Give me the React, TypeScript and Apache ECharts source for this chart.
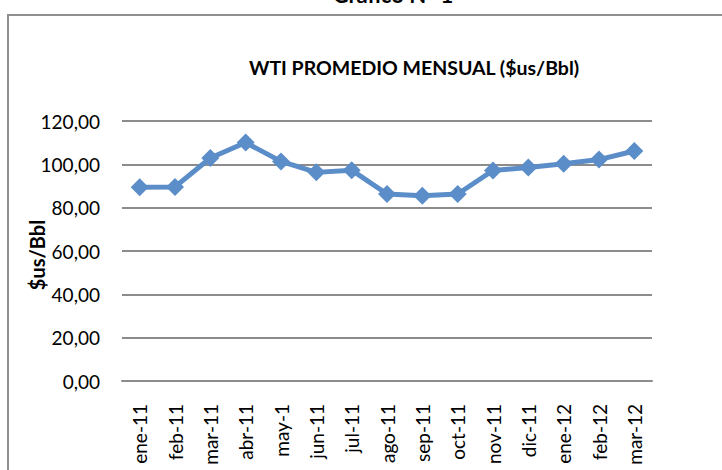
import React, { useEffect, useRef } from "react";
import * as echarts from "echarts";

const categories = [
  "ene-11", "feb-11", "mar-11", "abr-11", "may-1", "jun-11", "jul-11", "ago-11",
  "sep-11", "oct-11", "nov-11", "dic-11", "ene-12", "feb-12", "mar-12",
];
const wtiValues = [
  89.42, 89.58, 102.94, 110.04, 101.36, 96.29, 97.3, 86.33, 85.52, 86.32, 97.16, 98.56,
  100.27, 102.2, 106.16,
];
const yTicks = { min: 0, max: 120, interval: 20 };
const chartTitle = "WTI PROMEDIO MENSUAL ($us/Bbl)";
const topTitle = "Gráfico N° 1";
const yAxisName = "$us/Bbl";

const FONT = "Lato, 'Open Sans', sans-serif";

export default function App() {
  const ref = useRef<HTMLDivElement>(null);
  useEffect(() => {
    if (!ref.current) return;
    const chart = echarts.init(ref.current, null, { renderer: "svg" });
    chart.setOption({
      animation: false,
      backgroundColor: "#ffffff",
      textStyle: { fontFamily: FONT },
      grid: { left: 122, right: 70, top: 121, bottom: 89, containLabel: false },
      graphic: [
        {
          type: "rect",
          shape: { x: 8, y: 15, width: 900, height: 700 },
          style: { fill: "none", stroke: "#8f8f8f", lineWidth: 2 },
          silent: true,
        },
        {
          type: "text",
          x: 393,
          y: 5,
          style: {
            text: topTitle,
            fontFamily: FONT,
            fontSize: 22,
            fontWeight: "bold",
            fill: "#000",
            textAlign: "center",
            textVerticalAlign: "bottom",
          },
        },
        {
          type: "text",
          x: 414,
          y: 67,
          style: {
            text: chartTitle,
            fontFamily: FONT,
            fontSize: 19.5,
            fontWeight: "bold",
            fill: "#000",
            textAlign: "center",
            textVerticalAlign: "middle",
          },
        },
        {
          type: "text",
          x: 37,
          y: 255,
          rotation: Math.PI / 2,
          style: {
            text: yAxisName,
            fontFamily: FONT,
            fontSize: 20,
            fontWeight: "bold",
            fill: "#000",
            textAlign: "center",
            textVerticalAlign: "middle",
          },
        },
      ],
      xAxis: {
        type: "category",
        data: categories,
        boundaryGap: true,
        axisLine: { show: true, lineStyle: { color: "#8c8c8c", width: 2 } },
        axisTick: { show: false },
        axisLabel: {
          rotate: 90,
          margin: 23,
          interval: 0,
          fontSize: 19,
          color: "#000",
          fontFamily: FONT,
        },
        splitLine: { show: false },
      },
      yAxis: {
        type: "value",
        min: yTicks.min,
        max: yTicks.max,
        interval: yTicks.interval,
        axisLine: { show: false },
        axisTick: { show: false },
        axisLabel: {
          margin: 22,
          fontSize: 19,
          color: "#000",
          fontFamily: FONT,
          formatter: (v: number) => v.toFixed(2).replace(".", ","),
        },
        splitLine: { show: true, lineStyle: { color: "#8c8c8c", width: 2 } },
      },
      series: [
        {
          type: "line",
          data: wtiValues,
          symbol: "diamond",
          symbolSize: 18,
          showAllSymbol: true,
          lineStyle: { color: "#5B8DC8", width: 5 },
          itemStyle: { color: "#5B8DC8" },
        },
      ],
    });
    return () => chart.dispose();
  }, []);
  return (
    <div
      ref={ref}
      style={{ position: "fixed", left: 0, top: 0, width: 722, height: 470, background: "#fff" }}
    />
  );
}
